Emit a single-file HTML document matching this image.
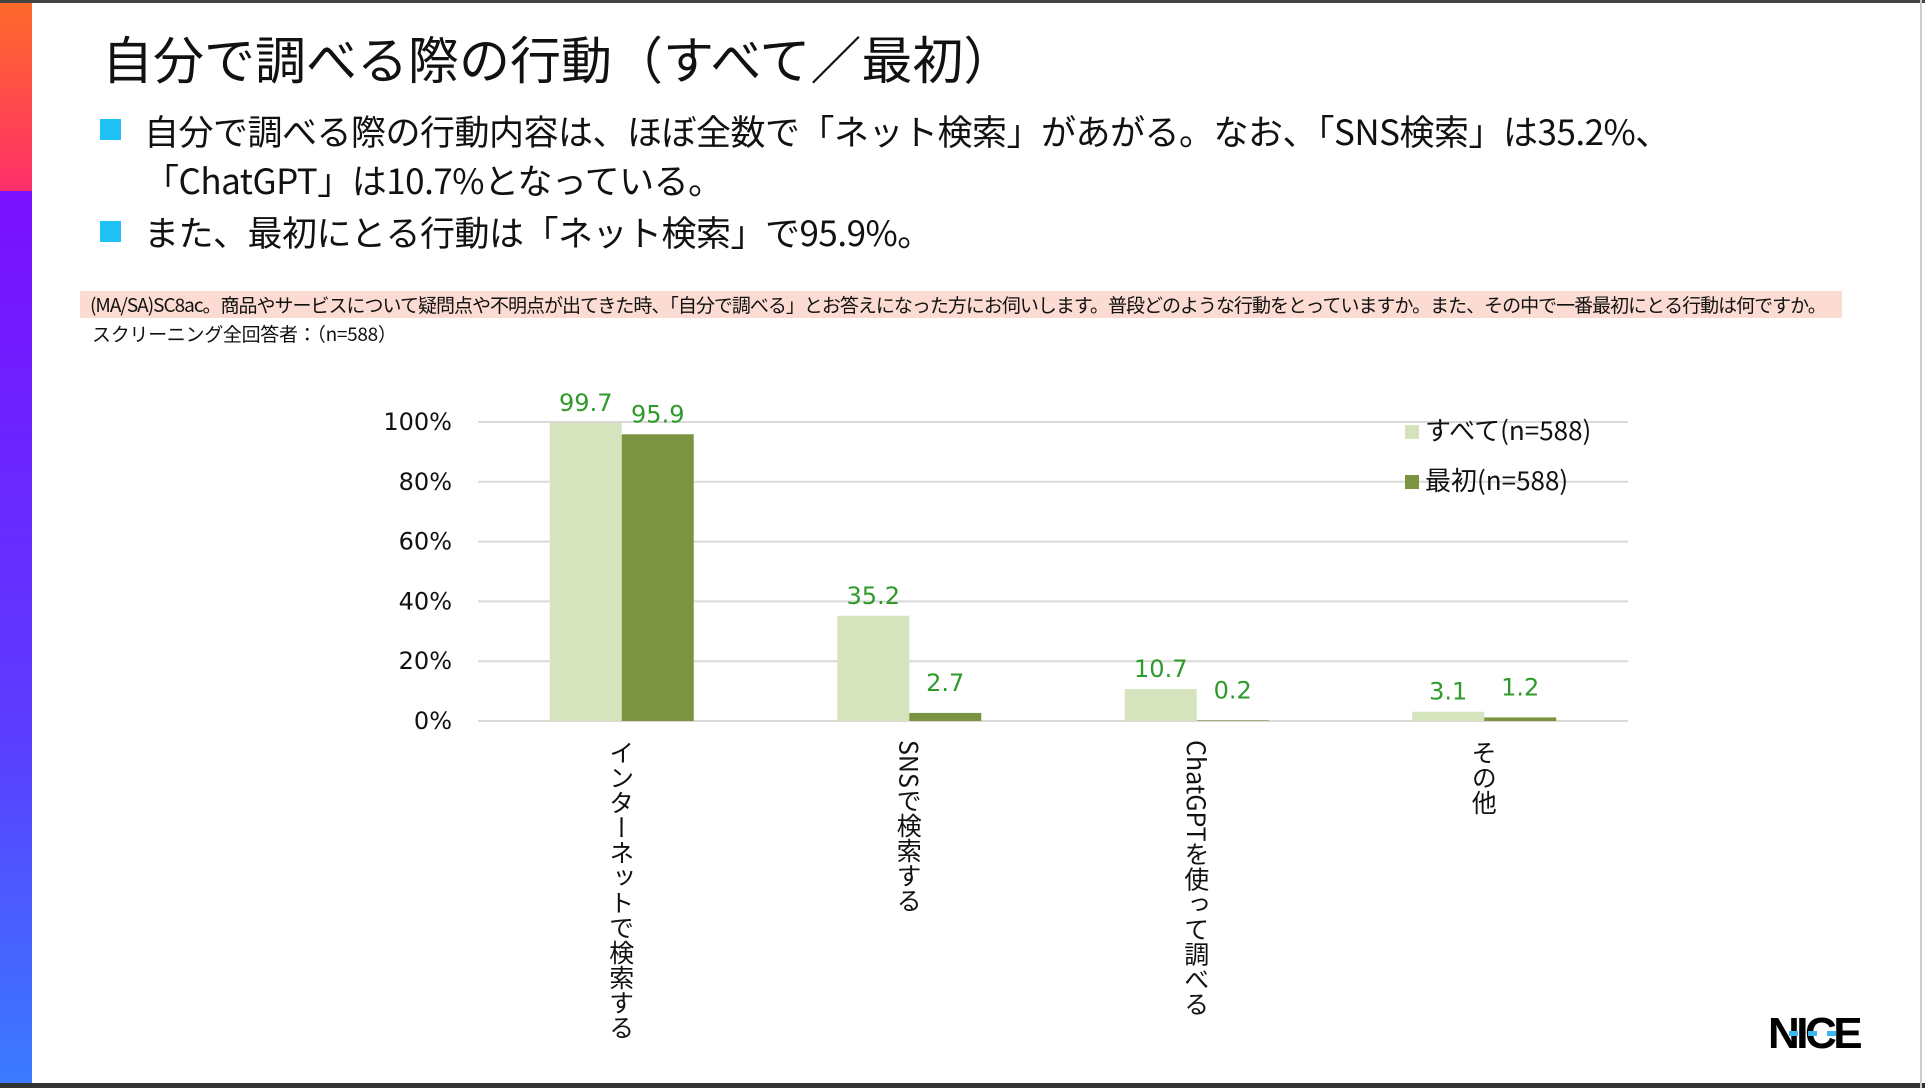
<!DOCTYPE html>
<html><head><meta charset="utf-8">
<style>
html,body{margin:0;padding:0}
body{width:1925px;height:1088px;position:relative;overflow:hidden;background:#fff;font-family:"Liberation Sans","Noto Sans CJK JP",sans-serif;color:#111}
.abs{position:absolute}
.t{white-space:nowrap}
</style></head><body>
<div class="abs" style="left:0;top:0;width:1925px;height:3px;background:#444"></div>
<div class="abs" style="left:0;top:1083px;width:1925px;height:5px;background:#333"></div>
<div class="abs" style="left:1920px;top:0;width:2px;height:1088px;background:#ccc"></div>
<div class="abs" style="left:0;top:3px;width:32px;height:188px;background:linear-gradient(#ff6a2a,#ff2f6a)"></div>
<div class="abs" style="left:0;top:191px;width:32px;height:892px;background:linear-gradient(#7a10ff,#5c3cff 60%,#3a7bff)"></div>

<div class="abs t" style="left:102px;top:24px;font-size:51px;line-height:66px;font-family:'Noto Sans CJK JP',sans-serif">自分で調べる際の行動（すべて／最初）</div>

<div class="abs" style="left:100px;top:119px;width:21px;height:21px;background:#1ec0f5"></div>
<div class="abs t" style="left:144px;top:106px;font-size:35px;line-height:49px;font-family:'Noto Sans CJK JP',sans-serif;letter-spacing:-0.5px">自分で調べる際の行動内容は、ほぼ全数で「ネット検索」があがる。なお、「SNS検索」は35.2%、<br>「ChatGPT」は10.7%となっている。</div>
<div class="abs" style="left:100px;top:221px;width:21px;height:21px;background:#1ec0f5"></div>
<div class="abs t" style="left:144px;top:207px;font-size:35px;line-height:49px;font-family:'Noto Sans CJK JP',sans-serif;letter-spacing:-0.5px">また、最初にとる行動は「ネット検索」で95.9%。</div>

<div class="abs" style="left:80px;top:291px;width:1762px;height:27px;background:#fcdcd2"></div>
<div class="abs t" style="left:90px;top:291px;font-size:19px;line-height:27px;font-family:'Noto Sans CJK JP',sans-serif;letter-spacing:-1px">(MA/SA)SC8ac。商品やサービスについて疑問点や不明点が出てきた時、「自分で調べる」とお答えになった方にお伺いします。普段どのような行動をとっていますか。また、その中で一番最初にとる行動は何ですか。</div>
<div class="abs t" style="left:92px;top:320px;font-size:19px;line-height:27px;font-family:'Noto Sans CJK JP',sans-serif;letter-spacing:-0.3px">スクリーニング全回答者：（n=588）</div>

<svg class="abs" style="left:0;top:0" width="1925" height="1088" id="chart"></svg>

<div class="abs" style="left:1768px;top:1012px;font-family:'Liberation Sans',sans-serif;font-weight:900;font-size:44px;line-height:44px;letter-spacing:-3.5px;color:#000">NICE</div>

<script>
const categories=["インターネットで検索する","SNSで検索する","ChatGPTを使って調べる","その他"];
const seriesAll=[99.7,35.2,10.7,3.1];
const seriesFirst=[95.9,2.7,0.2,1.2];
const seriesNames=["すべて(n=588)","最初(n=588)"];
const yTicks=[0,20,40,60,80,100];

const svg=document.getElementById('chart');
const NS='http://www.w3.org/2000/svg';
const x0=478,x1=1628,y0=721,y1=422;
const yS=v=>y0-(v/100)*(y0-y1);
const cw=(x1-x0)/categories.length;
const bw=72;
function el(tag,attrs,txt){const e=document.createElementNS(NS,tag);for(const k in attrs)e.setAttribute(k,attrs[k]);if(txt!=null)e.textContent=txt;svg.appendChild(e);return e;}
yTicks.forEach(t=>{
  const g=el('line',{x1:x0,x2:x1,y1:yS(t),y2:yS(t),stroke:'#d9d9d9','stroke-width':2});
  
  
  const l=el('text',{x:452,y:yS(t)+8,'text-anchor':'end','font-size':24,fill:'#111','font-family':'DejaVu Sans, sans-serif'},t+'%');
  
  
});
const cols=['#d6e4bd','#7a9441'];
[seriesAll,seriesFirst].forEach((s,si)=>{
  s.forEach((v,i)=>{
    const cx=x0+cw*(i+0.5);
    const bx=cx-bw+si*bw;
    const r=el('rect',{x:bx,y:yS(v),width:bw,height:y0-yS(v),fill:cols[si]});
    
    
    const lab=el('text',{x:bx+bw/2,y:yS(v)-12-(si&&v<5?10:0)+(si&&v>50?0:0),'text-anchor':'middle','font-size':24,fill:'#2e9a2a','font-family':'DejaVu Sans, sans-serif'},v.toFixed(1));
    
    
  });
});
categories.forEach((c,i)=>{
  const cx=x0+cw*(i+0.5);
  const t=el('text',{x:cx,y:740,'font-size':25,fill:'#111','writing-mode':'tb','font-family':'Noto Sans CJK JP, sans-serif',style:'writing-mode:vertical-rl;glyph-orientation-vertical:auto'},c);
  
  
});
seriesNames.forEach((n,i)=>{
  const y=425+i*50;
  const sq=el('rect',{x:1405,y:y,width:14,height:14,fill:cols[i]});
  
  
  const t=el('text',{x:1425,y:y+15,'font-size':26,fill:'#111','font-family':'Noto Sans CJK JP, sans-serif'},n);
  
  
});
</script>
<div class="abs" style="left:1789px;top:1031px;width:56px;height:5px;background:repeating-linear-gradient(90deg,#3ab8f0 0 9px,transparent 9px 19px)"></div>
</body></html>
